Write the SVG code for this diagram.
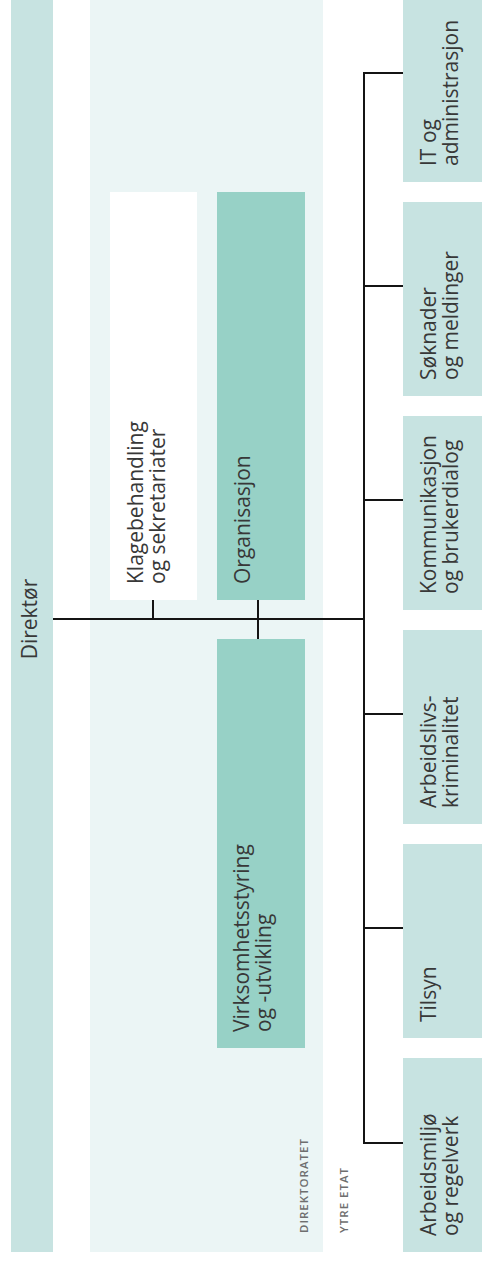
<svg xmlns="http://www.w3.org/2000/svg" width="482" height="1263" viewBox="0 0 482 1263">
<style>
.lbl{font-family:"Open Sans","DejaVu Sans",sans-serif;font-size:21px;fill:#383838}
.small{font-family:"Open Sans","DejaVu Sans",sans-serif;font-size:11.5px;font-weight:600;fill:#6e6e6e;letter-spacing:1px}
.bar{fill:#c7e3e1}
.mid{fill:#97d1c6}
.white{fill:#ffffff}
.conn{stroke:#141414;stroke-width:2;fill:none}
</style>
<rect x="0" y="0" width="482" height="1263" fill="#ffffff"/>
<g id="directorate-area">
<rect x="90" y="0" width="233" height="1252" fill="#ebf5f5"/>
<text class="small" transform="translate(308,1233) rotate(-90)">DIREKTORATET</text>
<text class="small" transform="translate(348,1233) rotate(-90)">YTRE ETAT</text>
</g>
<g id="direktor">
<rect class="bar" x="11" y="0" width="42" height="1252"/>
<text class="lbl" transform="translate(37,619) rotate(-90)" text-anchor="middle">Direktør</text>
</g>
<g id="klagebehandling">
<rect class="white" x="110" y="192" width="87" height="408"/>
<text class="lbl" transform="translate(143,584) rotate(-90)"><tspan x="0" y="0">Klagebehandling</tspan><tspan x="0" y="22">og sekretariater</tspan></text>
</g>
<g id="organisasjon">
<rect class="mid" x="217" y="192" width="88" height="408"/>
<text class="lbl" transform="translate(250,584) rotate(-90)">Organisasjon</text>
</g>
<g id="virksomhetsstyring">
<rect class="mid" x="217" y="639" width="88" height="409"/>
<text class="lbl" transform="translate(249,1032) rotate(-90)"><tspan x="0" y="0">Virksomhetsstyring</tspan><tspan x="0" y="22">og -utvikling</tspan></text>
</g>
<g id="it-administrasjon">
<rect class="bar" x="403" y="-12" width="79" height="194"/>
<text class="lbl" transform="translate(436,166) rotate(-90)"><tspan x="0" y="0">IT og</tspan><tspan x="0" y="22">administrasjon</tspan></text>
</g>
<g id="soknader-meldinger">
<rect class="bar" x="403" y="202" width="79" height="194"/>
<text class="lbl" transform="translate(436,380) rotate(-90)"><tspan x="0" y="0">Søknader</tspan><tspan x="0" y="22">og meldinger</tspan></text>
</g>
<g id="kommunikasjon">
<rect class="bar" x="403" y="416" width="79" height="194"/>
<text class="lbl" transform="translate(436,594) rotate(-90)"><tspan x="0" y="0">Kommunikasjon</tspan><tspan x="0" y="22">og brukerdialog</tspan></text>
</g>
<g id="arbeidslivskriminalitet">
<rect class="bar" x="403" y="630" width="79" height="194"/>
<text class="lbl" transform="translate(436,808) rotate(-90)"><tspan x="0" y="0">Arbeidslivs-</tspan><tspan x="0" y="22">kriminalitet</tspan></text>
</g>
<g id="tilsyn">
<rect class="bar" x="403" y="844" width="79" height="194"/>
<text class="lbl" transform="translate(436,1022) rotate(-90)">Tilsyn</text>
</g>
<g id="arbeidsmiljo">
<rect class="bar" x="403" y="1058" width="79" height="194"/>
<text class="lbl" transform="translate(436,1236) rotate(-90)"><tspan x="0" y="0">Arbeidsmiljø</tspan><tspan x="0" y="22">og regelverk</tspan></text>
</g>
<g id="connectors">
<path class="conn" d="M53 619H364"/>
<path class="conn" d="M153 600V619"/>
<path class="conn" d="M258 600V639"/>
<path class="conn" d="M364 72V1144"/>
<path class="conn" d="M363 73H403M363 286H403M363 500H403M363 714H403M363 928H403M363 1143H403"/>
</g>
</svg>
